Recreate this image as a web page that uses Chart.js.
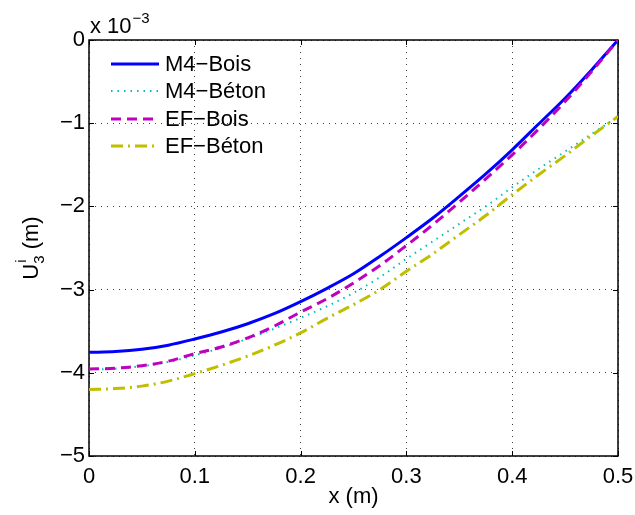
<!DOCTYPE html>
<html lang="fr">

<head>
    <meta charset="UTF-8">
    <title>U3 - M4 / EF</title>
    <script src="https://cdn.jsdelivr.net/npm/chart.js"></script>
    <style>
        body { margin: 0; background: #fff; }
        #wrap { width: 635px; height: 515px; }
    </style>
</head>

<body>
    <div id="wrap">
        <canvas id="myChart" width="635" height="515"></canvas>
    </div>
</body>

</html>
<script>
    // abscisses (m)
    const xPos = [0, 0.025, 0.05, 0.075, 0.1, 0.125, 0.15, 0.175, 0.2, 0.225, 0.25,
        0.275, 0.3, 0.325, 0.35, 0.375, 0.4, 0.425, 0.45, 0.475, 0.5];

    // deplacements en 10^-3 m
    const m4Bois = [-3.754, -3.745, -3.718, -3.668, -3.594, -3.51, -3.41, -3.29, -3.145, -2.985, -2.81,
        -2.60, -2.375, -2.14, -1.88, -1.61, -1.32, -1.01, -0.70, -0.36, 0];
    const m4Beton = [-3.96, -3.95, -3.92, -3.87, -3.79, -3.70, -3.59, -3.47, -3.34, -3.20, -3.04,
        -2.85, -2.63, -2.42, -2.21, -2.00, -1.77, -1.55, -1.34, -1.13, -0.92];
    const efBois = [-3.954, -3.945, -3.915, -3.86, -3.77, -3.69, -3.58, -3.44, -3.27, -3.11, -2.92,
        -2.71, -2.47, -2.22, -1.95, -1.67, -1.38, -1.07, -0.74, -0.38, 0];
    const efBeton = [-4.20, -4.19, -4.16, -4.10, -4.01, -3.91, -3.80, -3.67, -3.52, -3.345, -3.18,
        -3.00, -2.78, -2.57, -2.34, -2.11, -1.86, -1.62, -1.39, -1.15, -0.92];

    const nomes = ['M4\u2212Bois', 'M4\u2212Béton', 'EF\u2212Bois', 'EF\u2212Béton'];
    const xTicks = [0, 0.1, 0.2, 0.3, 0.4, 0.5];
    const yTicks = [-5, -4, -3, -2, -1, 0];

    const familia = '"Liberation Sans", Arial, Helvetica, sans-serif';
    const fonte = { family: familia, size: 22 };

    function pontos(arr) {
        return xPos.map((x, i) => ({ x: x, y: arr[i] }));
    }

    const matlabLook = {
        id: 'matlabLook',
        beforeDatasetsDraw(chart) {
            const { ctx, chartArea: a, scales: { x, y } } = chart;
            ctx.save();
            ctx.strokeStyle = '#000';
            ctx.lineWidth = 1.5;
            ctx.setLineDash([]);
            ctx.strokeRect(a.left, a.top, a.right - a.left, a.bottom - a.top);
            ctx.beginPath();
            xTicks.forEach(v => {
                const px = Math.round(x.getPixelForValue(v)) + 0.5;
                ctx.moveTo(px, a.bottom); ctx.lineTo(px, a.bottom - 5);
                ctx.moveTo(px, a.top); ctx.lineTo(px, a.top + 5);
            });
            yTicks.forEach(v => {
                const py = Math.round(y.getPixelForValue(v)) + 0.5;
                ctx.moveTo(a.left, py); ctx.lineTo(a.left + 5, py);
                ctx.moveTo(a.right, py); ctx.lineTo(a.right - 5, py);
            });
            ctx.lineWidth = 1;
            ctx.stroke();
            ctx.restore();
        },
        afterDatasetsDraw(chart) {
            const { ctx, chartArea: a } = chart;
            ctx.save();
            ctx.fillStyle = '#000';
            ctx.textBaseline = 'middle';
            ctx.textAlign = 'left';

            // legenda (sem caixa, estilo matlab)
            const linhaY = [64, 91, 119, 146];
            chart.data.datasets.forEach((ds, i) => {
                ctx.beginPath();
                ctx.strokeStyle = ds.borderColor;
                ctx.lineWidth = ds.borderWidth;
                ctx.setLineDash(ds.borderDash || []);
                ctx.moveTo(a.left + 22, linhaY[i]);
                ctx.lineTo(a.left + 70, linhaY[i]);
                ctx.stroke();
                ctx.setLineDash([]);
                ctx.font = '22px ' + familia;
                ctx.fillText(ds.label, a.left + 76, linhaY[i] + 1);
            });

            // x 10^-3
            ctx.textBaseline = 'alphabetic';
            ctx.font = '22px ' + familia;
            ctx.fillText('x 10', a.left + 1, 33);
            const w = ctx.measureText('x 10').width;
            ctx.font = '15px ' + familia;
            ctx.fillText('\u22123', a.left + 1 + w + 1, 23);

            // titulo eixo x
            ctx.textAlign = 'center';
            ctx.textBaseline = 'middle';
            ctx.font = '22px ' + familia;
            ctx.fillText('x (m)', (a.left + a.right) / 2, 497);

            // titulo eixo y : U^i_3 (m)
            ctx.translate(30, (a.top + a.bottom) / 2);
            ctx.rotate(-Math.PI / 2);
            ctx.textAlign = 'left';
            ctx.textBaseline = 'alphabetic';
            ctx.font = '22px ' + familia;
            const wU = ctx.measureText('U').width;
            const wM = ctx.measureText(' (m)').width;
            ctx.font = '15px ' + familia;
            const wS = ctx.measureText('3').width;
            const total = wU + wS + wM;
            let cx = -total / 2;
            ctx.font = '22px ' + familia;
            ctx.fillText('U', cx, 8);
            cx += wU;
            ctx.font = '15px ' + familia;
            ctx.fillText('i', cx + 1, -4);
            ctx.fillText('3', cx, 14);
            cx += wS;
            ctx.font = '22px ' + familia;
            ctx.fillText(' (m)', cx, 8);
            ctx.restore();
        }
    };

    const ctx = document.getElementById('myChart');

    new Chart(ctx, {
        type: 'line',
        data: {
            datasets: [{
                label: nomes[0],
                data: pontos(m4Bois),
                borderColor: '#0000ff',
                borderWidth: 3,
                order: 4
            }, {
                label: nomes[1],
                data: pontos(m4Beton),
                borderColor: '#00bfbf',
                borderWidth: 2,
                borderDash: [1.5, 5],
                order: 3
            }, {
                label: nomes[2],
                data: pontos(efBois),
                borderColor: '#bf00bf',
                borderWidth: 3,
                borderDash: [10, 6],
                order: 2
            }, {
                label: nomes[3],
                data: pontos(efBeton),
                borderColor: '#bfbf00',
                borderWidth: 3,
                borderDash: [12, 5, 2, 5],
                order: 1
            }]
        },
        options: {
            responsive: false,
            animation: false,
            layout: { padding: { top: 40, right: 17, left: 0, bottom: 0 } },
            elements: {
                point: { radius: 0 },
                line: { cubicInterpolationMode: 'monotone', fill: false }
            },
            plugins: {
                legend: { display: false },
                tooltip: { enabled: false }
            },
            scales: {
                x: {
                    type: 'linear',
                    min: 0,
                    max: 0.5,
                    afterBuildTicks: s => { s.ticks = xTicks.map(v => ({ value: v })); },
                    afterFit: s => { s.height = 59; s.paddingLeft = 0; s.paddingRight = 0; },
                    ticks: {
                        font: fonte,
                        color: '#000',
                        padding: 8,
                        maxRotation: 0,
                        callback: v => String(Number(v.toFixed(1)))
                    },
                    grid: { color: 'rgba(0,0,0,0.75)', lineWidth: 1, drawTicks: false },
                    border: { display: false, dash: [1, 5] }
                },
                y: {
                    type: 'linear',
                    min: -5,
                    max: 0,
                    afterBuildTicks: s => { s.ticks = yTicks.map(v => ({ value: v })); },
                    afterFit: s => { s.width = 89; s.paddingTop = 0; s.paddingBottom = 0; },
                    ticks: {
                        font: fonte,
                        color: '#000',
                        padding: 4,
                        callback: v => v < 0 ? '\u2212' + Math.abs(v) : String(v)
                    },
                    grid: { color: 'rgba(0,0,0,0.75)', lineWidth: 1, drawTicks: false },
                    border: { display: false, dash: [1, 5] }
                }
            }
        },
        plugins: [matlabLook]
    });
</script>
